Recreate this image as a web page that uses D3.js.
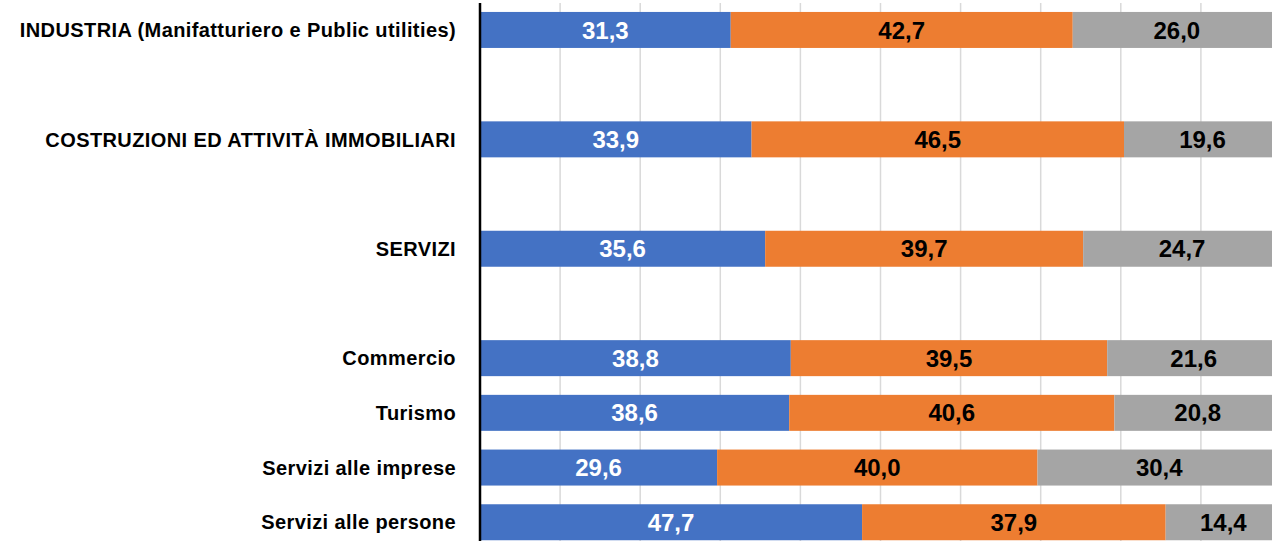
<!DOCTYPE html>
<html>
<head>
<meta charset="utf-8">
<script src="https://cdn.jsdelivr.net/npm/d3@7"></script>
<style>
  body { margin: 0; background: #fff; }
  svg { display: block; font-family: "Liberation Sans", Arial, sans-serif; }
</style>
</head>
<body>
<div id="chart"></div>
<script>
const categories = [
  "INDUSTRIA (Manifatturiero e Public utilities)",
  "COSTRUZIONI ED ATTIVITÀ IMMOBILIARI",
  "SERVIZI",
  "Commercio",
  "Turismo",
  "Servizi alle imprese",
  "Servizi alle persone"
];
const series1 = [31.3, 33.9, 35.6, 38.8, 38.6, 29.6, 47.7];
const series2 = [42.7, 46.5, 39.7, 39.5, 40.6, 40.0, 37.9];
const series3 = [26.0, 19.6, 24.7, 21.6, 20.8, 30.4, 14.4];
const xTicks = [0, 10, 20, 30, 40, 50, 60, 70, 80, 90, 100];

const w = 1272;
const h = 541;

const keys = ["s1", "s2", "s3"];
const colors = { s1: "#4472C4", s2: "#ED7D31", s3: "#A5A5A5" };
const labelColors = { s1: "#ffffff", s2: "#000000", s3: "#000000" };

const table = categories.map((c, i) => ({
  name: c,
  s1: series1[i],
  s2: series2[i],
  s3: series3[i]
}));

// the three macro-sectors are followed by an empty row
const slots = [];
categories.forEach((c, i) => {
  slots.push(c);
  if (i < 3) slots.push("__gap" + i);
});

const svg = d3
  .select("#chart")
  .append("svg")
  .attr("width", w)
  .attr("height", h);

const x = d3.scaleLinear().domain([0, 100]).range([480, 1281]);
const y = d3
  .scaleBand()
  .domain(slots)
  .range([2.6, 549.6])
  .paddingInner(0.342)
  .paddingOuter(0.171);

const it = d3.formatLocale({ decimal: ",", thousands: ".", grouping: [3], currency: ["", "€"] });
const fmt = it.format(".1f");

// gridlines
svg
  .append("g")
  .selectAll("line")
  .data(xTicks.filter((t) => t > 0))
  .join("line")
  .attr("x1", (d) => x(d))
  .attr("x2", (d) => x(d))
  .attr("y1", 3)
  .attr("y2", 550)
  .attr("stroke", "#d9d9d9")
  .attr("stroke-width", 1.5);

const stacked = d3.stack().keys(keys)(table);

const groups = svg
  .append("g")
  .selectAll("g")
  .data(stacked)
  .join("g")
  .attr("fill", (d) => colors[d.key]);

groups
  .selectAll("rect")
  .data((d) => d)
  .join("rect")
  .attr("x", (d) => x(d[0]))
  .attr("y", (d) => y(d.data.name))
  .attr("width", (d) => x(d[1]) - x(d[0]))
  .attr("height", y.bandwidth());

groups
  .selectAll("text")
  .data((d) => d.map((v) => ({ v: v, key: d.key })))
  .join("text")
  .attr("x", (d) => (x(d.v[0]) + x(d.v[1])) / 2)
  .attr("y", (d) => y(d.v.data.name) + y.bandwidth() / 2)
  .attr("dy", "0.36em")
  .attr("text-anchor", "middle")
  .attr("font-size", "24px")
  .attr("font-weight", "bold")
  .attr("fill", (d) => labelColors[d.key])
  .text((d) => fmt(d.v.data[d.key]));

// category labels
svg
  .append("g")
  .selectAll("text")
  .data(categories)
  .join("text")
  .attr("x", 456)
  .attr("y", (d) => y(d) + y.bandwidth() / 2)
  .attr("dy", "0.36em")
  .attr("text-anchor", "end")
  .attr("font-size", "20px")
  .attr("letter-spacing", "0.4px")
  .attr("font-weight", "bold")
  .attr("fill", "#000")
  .text((d) => d);

// vertical axis line
svg
  .append("line")
  .attr("x1", x(0))
  .attr("x2", x(0))
  .attr("y1", 3)
  .attr("y2", 550)
  .attr("stroke", "#000")
  .attr("stroke-width", 2.5);
</script>
</body>
</html>
